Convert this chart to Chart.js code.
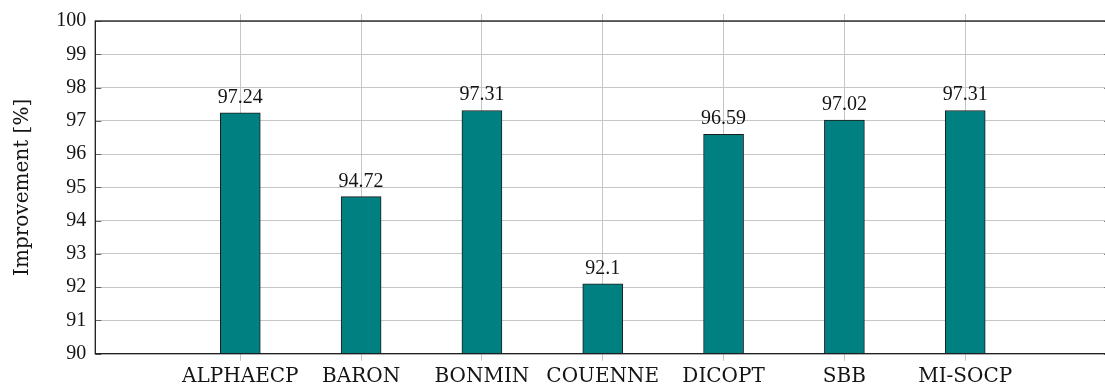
<!DOCTYPE html>
<html><head><meta charset="utf-8">
<script src="https://cdn.jsdelivr.net/npm/chart.js@4/dist/chart.umd.min.js"></script>
<style>
html,body{margin:0;padding:0;background:#fff;overflow:hidden;}
#wrap{position:absolute;left:0;top:0;width:1112px;height:387px;}
</style>
</head><body>
<div id="wrap"><canvas id="c" width="1112" height="387"></canvas></div>
<script>
const categories = ['ALPHAECP', 'BARON', 'BONMIN', 'COUENNE', 'DICOPT', 'SBB', 'MI-SOCP'];
const improvement = [97.24, 94.72, 97.31, 92.1, 96.59, 97.02, 97.31];
const yTicks = [90, 91, 92, 93, 94, 95, 96, 97, 98, 99, 100];
const yTitle = 'Improvement [%]';

const GRID = '#c6c6c6';
const TEXT = '#141414';
const NUM_FONT = '"Liberation Serif", serif';
const TXT_FONT = '"DejaVu Serif", serif';

const catTicks = (s) => { s.ticks = categories.map((_, i) => ({ value: i })); };

const framePlugin = {
  id: 'framePlugin',
  afterDatasetsDraw(chart) {
    const ctx = chart.ctx;
    const a = chart.chartArea;
    const ys = chart.scales.y;
    ctx.save();
    ctx.strokeStyle = '#666';
    ctx.lineWidth = 1;
    yTicks.forEach(v => {
      const py = Math.round(ys.getPixelForValue(v)) + 0.5;
      ctx.beginPath();
      ctx.moveTo(a.left, py); ctx.lineTo(a.left + 6, py);
      ctx.moveTo(a.right, py); ctx.lineTo(a.right - 6, py);
      ctx.stroke();
    });
    ctx.strokeStyle = '#1a1a1a';
    ctx.lineWidth = 1.3;
    ctx.strokeRect(a.left, a.top, a.right - a.left, a.bottom - a.top);
    const meta = chart.getDatasetMeta(0);
    ctx.fillStyle = TEXT;
    ctx.font = '20px ' + NUM_FONT;
    ctx.textAlign = 'center';
    ctx.textBaseline = 'alphabetic';
    meta.data.forEach((bar, i) => {
      ctx.fillText(String(improvement[i]), bar.x, bar.y - 10);
    });
    ctx.restore();
  }
};

new Chart(document.getElementById('c'), {
  type: 'bar',
  data: {
    datasets: [{
      data: improvement.map((v, i) => ({ x: i, y: v })),
      backgroundColor: '#008080',
      borderColor: '#1c1c1c',
      borderWidth: 1,
      barThickness: 40
    }]
  },
  options: {
    responsive: false,
    animation: false,
    layout: { padding: { top: 12.3, left: 0, right: 1.8, bottom: 0 } },
    plugins: { legend: { display: false }, tooltip: { enabled: false } },
    scales: {
      x: {
        type: 'linear', position: 'bottom', min: -1.2, max: 7.2, offset: false,
        afterBuildTicks: catTicks,
        afterFit: (s) => { s.height = 33.3; },
        grid: { offset: false, color: GRID, lineWidth: 1, drawTicks: true, tickLength: 7, tickColor: GRID },
        border: { display: false },
        ticks: {
          autoSkip: false, maxRotation: 0, padding: 4, color: TEXT,
          font: { family: TXT_FONT, size: 20 },
          callback: (v) => categories[v]
        }
      },
      xTop: {
        type: 'linear', position: 'top', min: -1.2, max: 7.2, offset: false,
        afterBuildTicks: catTicks,
        afterFit: (s) => { s.height = 7; },
        grid: { offset: false, drawOnChartArea: false, drawTicks: true, tickLength: 7, tickColor: GRID, color: GRID },
        border: { display: false },
        ticks: { display: false }
      },
      y: {
        min: 90, max: 100,
        afterBuildTicks: (s) => { s.ticks = yTicks.map(v => ({ value: v })); },
        afterFit: (s) => { s.width = 95.3; },
        grid: { color: GRID, lineWidth: 1, drawTicks: false },
        border: { display: false },
        ticks: { padding: 9, color: TEXT, font: { family: NUM_FONT, size: 20 } },
        title: {
          display: true, text: yTitle, color: TEXT,
          font: { family: TXT_FONT, size: 20 },
          padding: { top: 11, bottom: 0 }
        }
      }
    }
  },
  plugins: [framePlugin]
});
</script>
</body></html>
